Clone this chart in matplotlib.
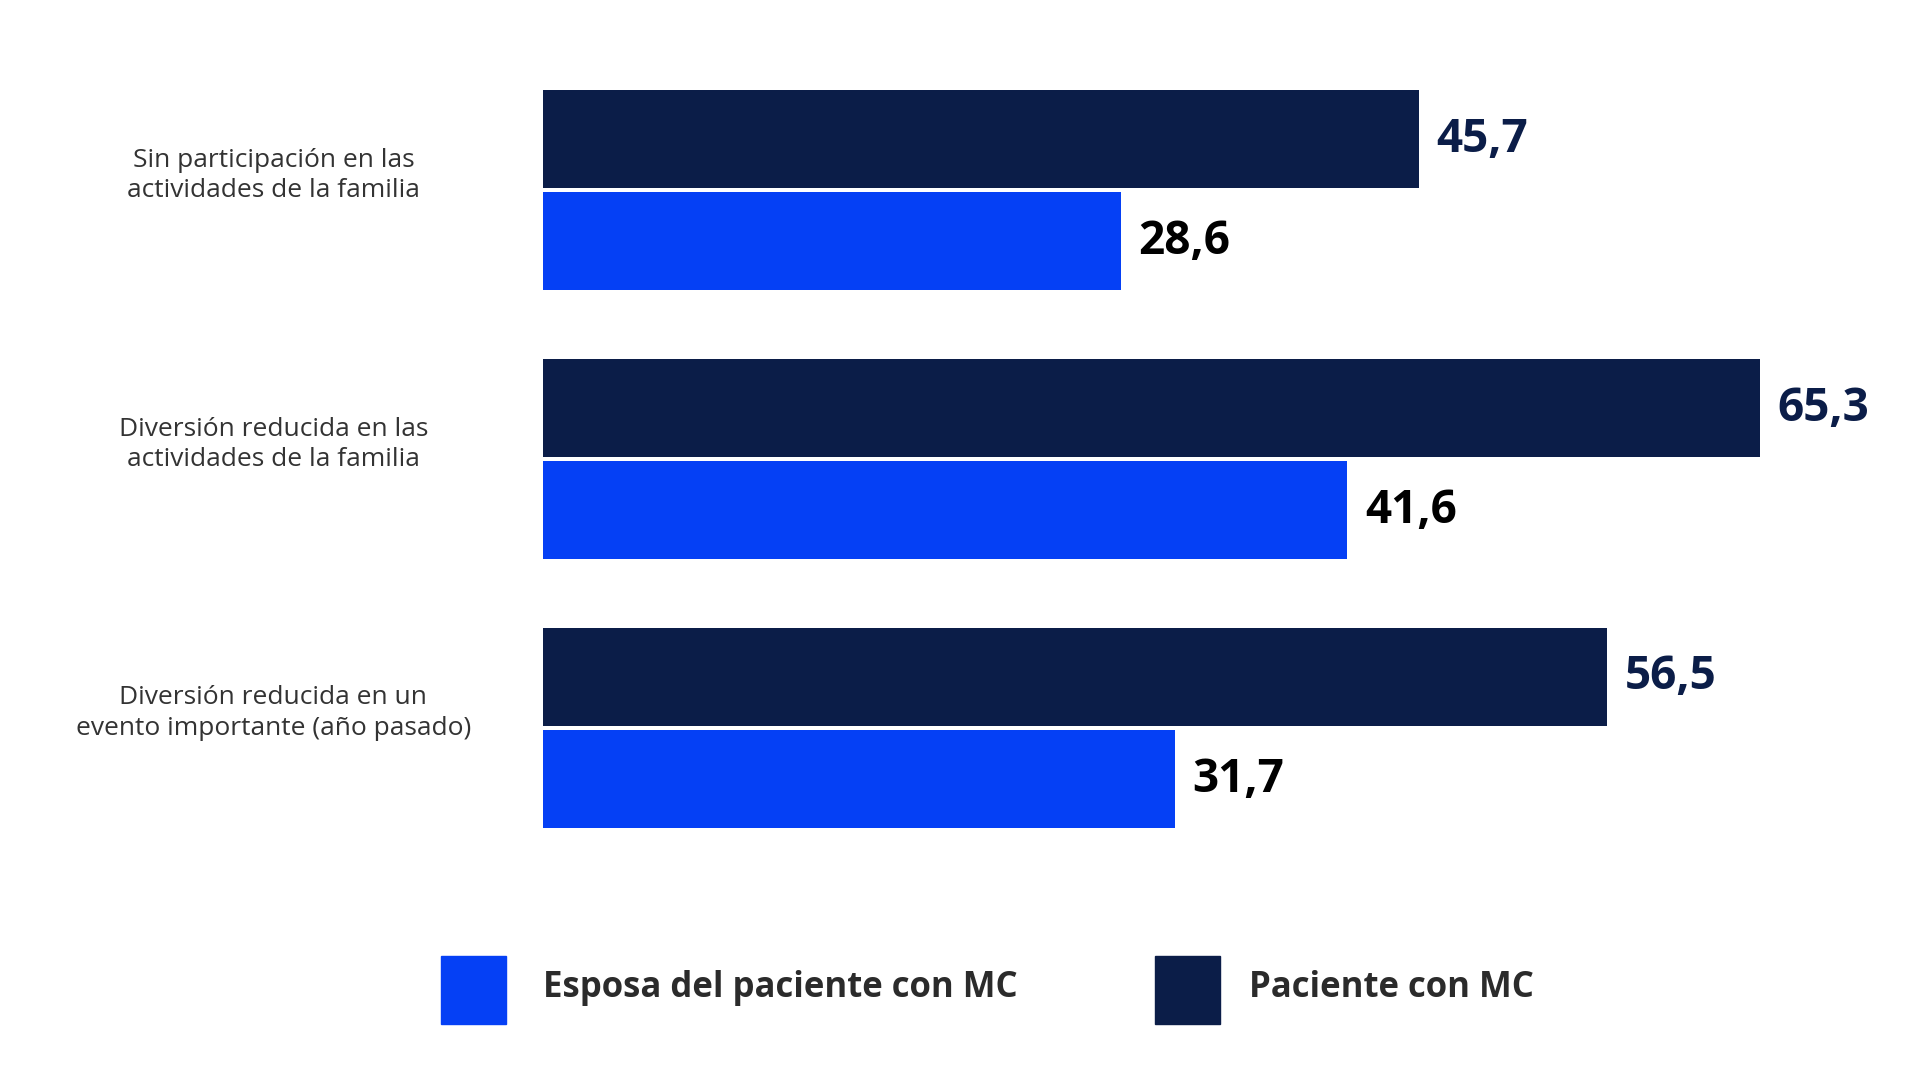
import matplotlib
matplotlib.use("Agg")
import matplotlib.pyplot as plt
from matplotlib.patches import Rectangle

categories = ["Sin participación en las\nactividades de la familia",
              "Diversión reducida en las\nactividades de la familia",
              "Diversión reducida en un\nevento importante (año pasado)"]
paciente = [45.7, 65.3, 56.5]
esposa = [28.6, 41.6, 31.7]
labels_pac = ["45,7", "65,3", "56,5"]
labels_esp = ["28,6", "41,6", "31,7"]
series_names = ["Esposa del paciente con MC", "Paciente con MC"]

DARK = "#0b1d48"
BLUE = "#0540f5"
FONT = ["Open Sans", "DejaVu Sans"]
plt.rcParams["font.family"] = FONT

fig = plt.figure(figsize=(19.12, 10.68), dpi=100)
ax = fig.add_axes([0.284, 0, 0.716, 1])
ax.set_xlim(-4.57, 74)
ax.set_ylim(3.265, -0.708)
ax.axis("off")

base = -4.57
h = 0.365
for i in range(len(categories)):
    yd = i - 0.19
    yb = i + 0.19
    ax.barh(yd, paciente[i] - base, left=base, height=h, color=DARK)
    ax.barh(yb, esposa[i] - base, left=base, height=h, color=BLUE)
    ax.text(paciente[i] + 1.0, yd, labels_pac[i], va="center", ha="left",
            fontsize=33, fontweight="bold", color=DARK)
    ax.text(esposa[i] + 1.0, yb, labels_esp[i], va="center", ha="left",
            fontsize=33, fontweight="bold", color="black")
    fig.text(0.143, 1 - (155 + i * 219 - 12) / 870, categories[i], ha="center",
             va="center", fontsize=19, color="#333333", linespacing=1.3)

# legend
for px, tx, col, name in [(360, 443, BLUE, series_names[0]), (942, 1019, DARK, series_names[1])]:
    fig.patches.append(Rectangle((px / 1560, 1 - 834 / 870), 53 / 1560, 55 / 870,
                                 transform=fig.transFigure, color=col))
    fig.text(tx / 1560, 1 - 805 / 870, name, ha="left", va="center",
             fontsize=25, fontweight="bold", color="#2b2b2b")

fig.savefig("out.png", dpi=100)
